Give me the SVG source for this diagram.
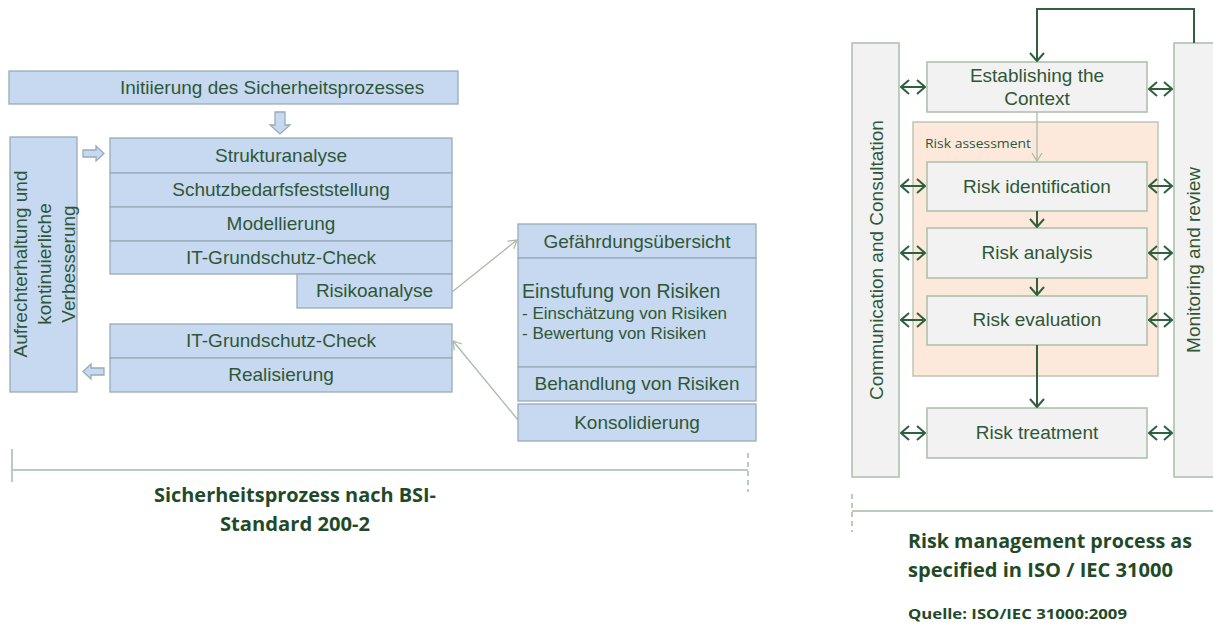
<svg xmlns="http://www.w3.org/2000/svg" width="1213" height="632" viewBox="0 0 1213 632">
<defs>
<style>
.bx{fill:#c6d9f0;stroke:#98abbb;stroke-width:1.3}
.ib{fill:#f2f2f2;stroke:#a9bfa9;stroke-width:1.5}
.t{font-family:"Liberation Sans",Arial,sans-serif;font-size:19px;fill:#2f5737;text-anchor:middle}
.tl{font-family:"Liberation Sans",Arial,sans-serif;fill:#2f5737}
.ti{font-family:"Open Sans","Liberation Sans",sans-serif;font-weight:bold;fill:#1f4a2a}
.dk{fill:none;stroke:#2f6040;stroke-width:2}
.lt{fill:none;stroke:#a8bba8;stroke-width:1.3}
.br{fill:none;stroke:#b9cbbd;stroke-width:2}
</style>
<marker id="chev" viewBox="0 0 10 16" refX="9" refY="8" markerWidth="10" markerHeight="16" markerUnits="userSpaceOnUse" orient="auto-start-reverse">
<path d="M1,1 L9,8 L1,15" fill="none" stroke="#2f6040" stroke-width="2"/>
</marker>
<marker id="lchev" viewBox="0 0 10 12" refX="9" refY="6" markerWidth="10" markerHeight="12" markerUnits="userSpaceOnUse" orient="auto">
<path d="M1,1 L9,6 L1,11" fill="none" stroke="#a8bba8" stroke-width="1.3"/>
</marker>
</defs>

<!-- BSI side -->
<g id="init"><rect class="bx" x="9" y="71" width="449" height="33"/><text class="tl" x="120" y="94" font-size="19">Initiierung des Sicherheitsprozesses</text></g>
<g id="arrow-down"><polygon class="bx" points="275,112 285,112 285,125 290,125 280,134 270,125 275,125"/></g>
<g id="aufrecht"><rect class="bx" x="10" y="137" width="67" height="255"/>
<g transform="translate(44,264) rotate(-90)"><text class="t" x="0" y="-17">Aufrechterhaltung und</text><text class="t" x="0" y="7">kontinuierliche</text><text class="t" x="0" y="31">Verbesserung</text></g></g>
<g id="arrow-right"><polygon class="bx" points="83,150 96,150 96,146 104,153.5 96,161 96,157 83,157"/></g>
<g id="arrow-left"><polygon class="bx" points="104,368 91,368 91,364 83,371.5 91,379 91,375 104,375"/></g>
<g id="struktur"><rect class="bx" x="110" y="138" width="342" height="35"/><text class="t" x="281" y="162">Strukturanalyse</text></g>
<g id="schutz"><rect class="bx" x="110" y="173" width="342" height="34"/><text class="t" x="281" y="196">Schutzbedarfsfeststellung</text></g>
<g id="model"><rect class="bx" x="110" y="207" width="342" height="34"/><text class="t" x="281" y="230">Modellierung</text></g>
<g id="check1"><rect class="bx" x="110" y="241" width="342" height="33"/><text class="t" x="281" y="264">IT-Grundschutz-Check</text></g>
<g id="risiko"><rect class="bx" x="297" y="274" width="155" height="34"/><text class="t" x="374.5" y="297">Risikoanalyse</text></g>
<g id="check2"><rect class="bx" x="110" y="324" width="342" height="34"/><text class="t" x="281" y="347">IT-Grundschutz-Check</text></g>
<g id="real"><rect class="bx" x="110" y="358" width="342" height="34"/><text class="t" x="281" y="381">Realisierung</text></g>
<g id="gefaehrdung"><rect class="bx" x="518" y="224" width="238" height="34"/><text class="t" x="637" y="248">Gefährdungsübersicht</text></g>
<g id="einstufung"><rect class="bx" x="518" y="258" width="238" height="109"/><text class="tl" x="522" y="298" font-size="19.5">Einstufung von Risiken</text><text class="tl" x="522" y="319" font-size="17">- Einschätzung von Risiken</text><text class="tl" x="522" y="339" font-size="17">- Bewertung von Risiken</text></g>
<g id="behandlung"><rect class="bx" x="518" y="367" width="238" height="34"/><text class="t" x="637" y="390">Behandlung von Risiken</text></g>
<g id="konsol"><rect class="bx" x="518" y="404" width="238" height="37"/><text class="t" x="637" y="429">Konsolidierung</text></g>

<!-- ISO side -->
<g id="comm"><rect class="ib" x="852" y="43" width="47" height="434"/><text class="t" transform="translate(883,260) rotate(-90)" x="0" y="0">Communication and Consultation</text></g>
<g id="monitor"><rect class="ib" x="1174" y="43" width="45" height="434"/><text class="t" transform="translate(1200,260) rotate(-90)" x="0" y="0">Monitoring and review</text></g>
<g id="assess"><rect x="913" y="122" width="245" height="254" fill="#fde9dc" stroke="#b9c7b3" stroke-width="1.5"/><text class="ti" x="925" y="148" font-size="12.5" textLength="106" lengthAdjust="spacingAndGlyphs" style="font-weight:normal;fill:#2f5737">Risk assessment</text></g>
<g id="context"><rect class="ib" x="927" y="62" width="220" height="50"/><text class="t" x="1037" y="82">Establishing the</text><text class="t" x="1037" y="105">Context</text></g>
<g id="ident"><rect class="ib" x="927" y="162" width="220" height="49"/><text class="t" x="1037" y="193">Risk identification</text></g>
<g id="analysis"><rect class="ib" x="927" y="228" width="220" height="50"/><text class="t" x="1037" y="259">Risk analysis</text></g>
<g id="evaluation"><rect class="ib" x="927" y="296" width="220" height="49"/><text class="t" x="1037" y="326">Risk evaluation</text></g>
<g id="treatment"><rect class="ib" x="927" y="408" width="220" height="50"/><text class="t" x="1037" y="439">Risk treatment</text></g>

<g id="connectors">
<line class="lt" x1="452" y1="292" x2="517" y2="240" marker-end="url(#lchev)"/>
<line class="lt" x1="518" y1="420" x2="453" y2="341" marker-end="url(#lchev)"/>
<polyline class="dk" points="1194,43 1194,9 1037,9 1037,61" marker-end="url(#chev)"/>
<line x1="1037" y1="112" x2="1037" y2="161" stroke="#a8bba8" stroke-width="1.3" marker-end="url(#lchev)"/>
<line class="dk" x1="1037" y1="211" x2="1037" y2="227" marker-end="url(#chev)"/>
<line class="dk" x1="1037" y1="278" x2="1037" y2="295" marker-end="url(#chev)"/>
<line class="dk" x1="1037" y1="345" x2="1037" y2="407" marker-end="url(#chev)"/>
<g>
<line class="dk" x1="901" y1="87" x2="925" y2="87" marker-start="url(#chev)" marker-end="url(#chev)"/>
<line class="dk" x1="901" y1="186" x2="925" y2="186" marker-start="url(#chev)" marker-end="url(#chev)"/>
<line class="dk" x1="901" y1="253" x2="925" y2="253" marker-start="url(#chev)" marker-end="url(#chev)"/>
<line class="dk" x1="901" y1="320" x2="925" y2="320" marker-start="url(#chev)" marker-end="url(#chev)"/>
<line class="dk" x1="901" y1="433" x2="925" y2="433" marker-start="url(#chev)" marker-end="url(#chev)"/>
<line class="dk" x1="1149" y1="89" x2="1172" y2="89" marker-start="url(#chev)" marker-end="url(#chev)"/>
<line class="dk" x1="1149" y1="186" x2="1172" y2="186" marker-start="url(#chev)" marker-end="url(#chev)"/>
<line class="dk" x1="1149" y1="253" x2="1172" y2="253" marker-start="url(#chev)" marker-end="url(#chev)"/>
<line class="dk" x1="1149" y1="320" x2="1172" y2="320" marker-start="url(#chev)" marker-end="url(#chev)"/>
<line class="dk" x1="1149" y1="433" x2="1172" y2="433" marker-start="url(#chev)" marker-end="url(#chev)"/>
</g>
</g>

<!-- brackets and captions -->
<g id="bsi-caption">
<line class="br" x1="12" y1="470" x2="748" y2="470"/>
<line class="br" x1="12" y1="449" x2="12" y2="482"/>
<line class="br" x1="748" y1="453" x2="748" y2="492" stroke-dasharray="5,4"/>
<text class="ti" x="295" y="502" font-size="19" text-anchor="middle" textLength="282" lengthAdjust="spacingAndGlyphs">Sicherheitsprozess nach BSI-</text>
<text class="ti" x="295" y="531" font-size="19" text-anchor="middle" textLength="150" lengthAdjust="spacingAndGlyphs">Standard 200-2</text>
</g>
<g id="iso-caption">
<line class="br" x1="852" y1="511" x2="1213" y2="511"/>
<line class="br" x1="852" y1="494" x2="852" y2="532" stroke-dasharray="5,4"/>
<text class="ti" x="908" y="548" font-size="19" textLength="284" lengthAdjust="spacingAndGlyphs">Risk management process as</text>
<text class="ti" x="908" y="577" font-size="19" textLength="265" lengthAdjust="spacingAndGlyphs">specified in ISO / IEC 31000</text>
<text class="ti" x="908" y="619" font-size="13.5" textLength="219" lengthAdjust="spacingAndGlyphs">Quelle: ISO/IEC 31000:2009</text>
</g>
</svg>
